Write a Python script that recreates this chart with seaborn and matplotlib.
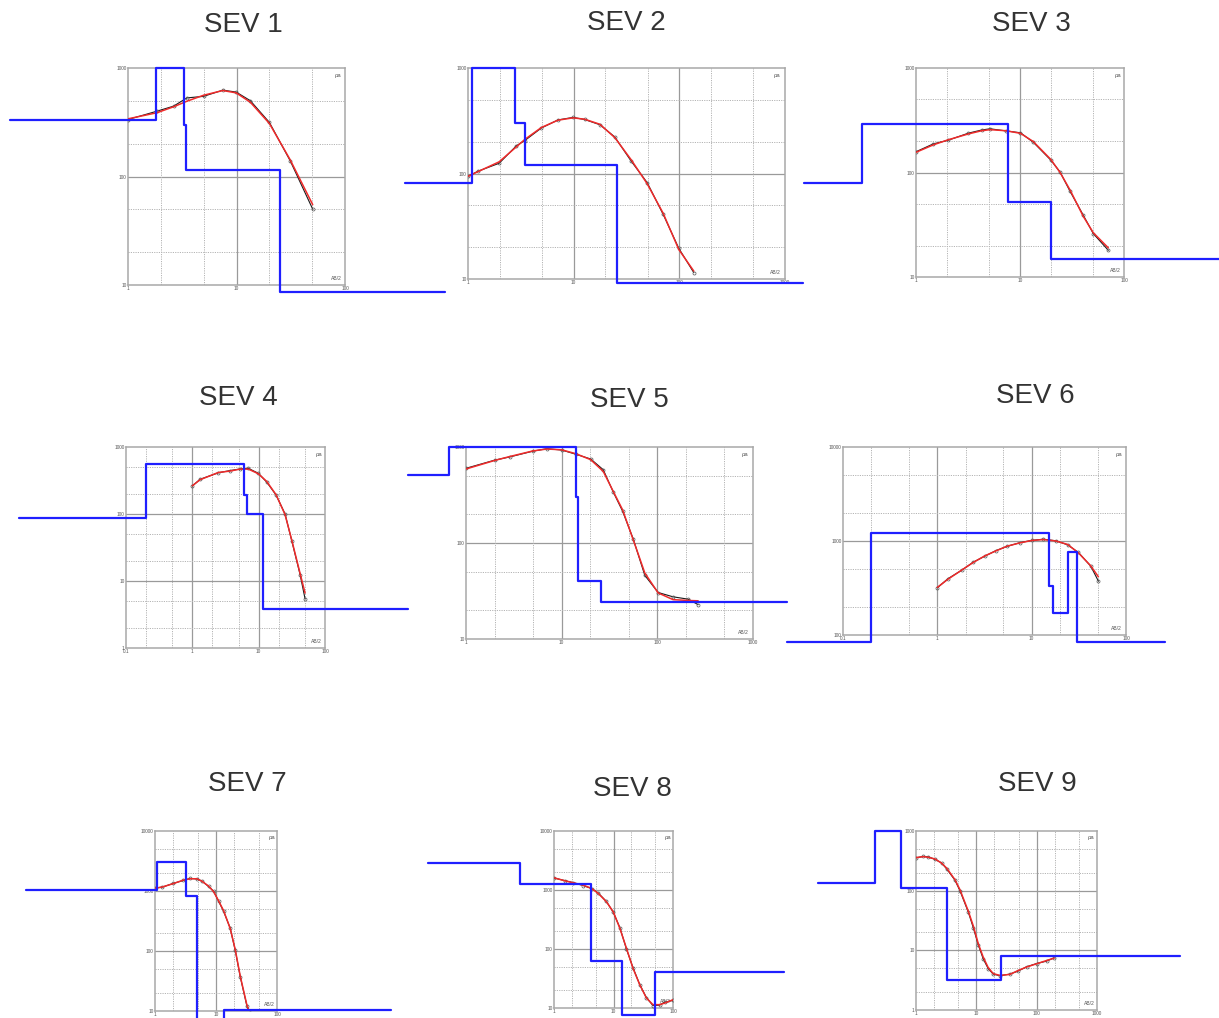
import matplotlib
matplotlib.use("Agg")
import matplotlib.pyplot as plt
from matplotlib.ticker import FixedLocator, FuncFormatter, LogLocator, NullFormatter
import numpy as np
import pandas as pd
import seaborn as sns

# ---------------------------------------------------------------------------
# Vertical electrical soundings: AB/2 (m), apparent resistivity (ohm.m)
# field = measured curve, calc = fitted curve, model = layered step model
# ---------------------------------------------------------------------------
titles = ["SEV 1", "SEV 2", "SEV 3", "SEV 4", "SEV 5", "SEV 6", "SEV 7", "SEV 8", "SEV 9"]

sev1_ab2 = [1, 1.85, 2.63, 3.49, 4.97, 7.48, 9.93, 13.4, 20.1, 31.2, 50.4]
sev1_calc = [340, 387, 439, 494, 561, 620, 590, 484, 308, 143, 55]
sev1_field = [335, 400, 445, 530, 548, 625, 600, 500, 315, 140, 50]
sev1_depth = [0.081, 1.81, 3.30, 3.44, 25.2, 832]
sev1_rho = [334, 1000, 301, 114, 8.65]

sev2_ab2 = [1, 1.24, 1.97, 2.87, 3.44, 4.95, 7.1, 9.87, 12.7, 17.7, 24.5, 35.2, 49.6, 70.3, 98.9, 137]
sev2_calc = [94, 104, 129, 179, 210, 273, 320, 337, 327, 293, 219, 134, 80, 42, 19, 11.9]
sev2_field = [94, 105, 125, 183, 205, 270, 322, 340, 325, 290, 222, 130, 82, 41, 19.5, 11.5]
sev2_depth = [0.255, 1.08, 2.77, 3.44, 25.8, 1480]
sev2_rho = [82, 1000, 302, 120, 9.2]

sev3_ab2 = [1, 1.47, 2.02, 3.19, 4.28, 5.15, 7.33, 10.1, 13.4, 19.7, 24.3, 30.3, 40.6, 50.7, 70.7]
sev3_calc = [156, 184, 205, 234, 251, 257, 251, 237, 198, 134, 100, 68, 38, 26.5, 19]
sev3_field = [158, 188, 203, 238, 255, 262, 250, 240, 195, 132, 101, 66, 39, 26, 18]
sev3_depth = [0.084, 0.305, 7.72, 19.9, 815]
sev3_rho = [79, 293, 52, 15]

sev4_ab2 = [1, 1.31, 2.47, 3.7, 5.24, 7.0, 9.9, 13.2, 18.3, 25, 31.5, 42.1, 50.1]
sev4_calc = [264, 325, 417, 437, 468, 468, 398, 307, 194, 98, 41, 13, 6.6]
sev4_field = [262, 330, 412, 445, 470, 480, 405, 300, 192, 100, 40, 12.5, 5.4]
sev4_depth = [0.0024, 0.2, 6.09, 6.69, 11.8, 1810]
sev4_rho = [88, 564, 194, 100, 3.8]

sev5_ab2 = [1, 2, 2.9, 5, 7, 10, 14.1, 20.1, 27.2, 34.6, 43.3, 56, 74, 102, 146, 210, 267]
sev5_calc = [590, 725, 798, 910, 953, 935, 851, 738, 557, 345, 222, 108, 48.7, 30.2, 25.7, 25.2, 25]
sev5_field = [600, 730, 790, 905, 960, 930, 840, 750, 580, 340, 215, 110, 46, 30.5, 27.5, 26, 22.8]
sev5_depth = [0.25, 0.67, 14.1, 14.9, 25.6, 2260]
sev5_rho = [514, 1000, 299, 40.4, 24.5]

sev6_ab2 = [1, 1.3, 1.81, 2.4, 3.19, 4.18, 5.5, 7.5, 10, 13.3, 18.1, 24.1, 31.3, 42.3, 51]
sev6_calc = [321, 393, 490, 591, 695, 785, 881, 955, 1012, 1037, 1000, 918, 748, 544, 416]
sev6_field = [318, 398, 488, 595, 690, 790, 878, 960, 1015, 1045, 1005, 910, 755, 540, 374]
sev6_depth = [0.0255, 0.2, 15.1, 16.9, 24.1, 30, 260]
sev6_rho = [85, 1230, 334, 171, 766, 85]

sev7_ab2 = [1, 1.32, 2, 2.92, 3.77, 4.84, 5.86, 7.54, 9.1, 11, 13.3, 17.1, 20.7, 25, 32.2, 35.6]
sev7_calc = [1110, 1167, 1330, 1520, 1600, 1600, 1460, 1210, 980, 690, 472, 237, 105, 38, 12.4, 9.6]
sev7_field = [1120, 1160, 1340, 1500, 1620, 1590, 1470, 1190, 1000, 680, 460, 240, 102, 37, 12, 9.4]
sev7_depth = [0.0076, 1.09, 3.2, 4.97, 13.3, 7330]
sev7_rho = [1030, 2990, 813, 3, 10.3]

sev8_ab2 = [1, 1.53, 2.11, 3.1, 4.27, 5.53, 7.6, 9.9, 12.8, 16.5, 21.3, 27.6, 35.7, 46, 59.7, 72.3, 100]
sev8_calc = [1610, 1430, 1325, 1210, 1064, 877, 632, 428, 224, 103, 47, 24.8, 14.8, 11.4, 11.4, 12.1, 13.8]
sev8_field = [1600, 1440, 1330, 1190, 1060, 890, 640, 420, 230, 100, 48, 25, 15, 11, 11.2, 12.5, 13.5]
sev8_depth = [0.0075, 0.27, 4.17, 13.9, 49.2, 7400]
sev8_rho = [2920, 1245, 63, 7.7, 40.5]

sev9_ab2 = [1, 1.32, 1.6, 2.06, 2.66, 3.22, 4.42, 5.35, 7.35, 8.9, 10.8, 13, 15.8, 19.1, 24.6,
            36, 49.5, 68, 99.6, 146, 195]
sev9_calc = [358, 372, 363, 340, 289, 239, 153, 104, 45.5, 25.7, 12.8, 7.7, 5.1, 4.06, 3.8,
             3.95, 4.6, 5.25, 5.95, 6.75, 7.4]
sev9_field = [355, 375, 368, 335, 292, 232, 150, 100, 44, 24, 12.3, 7.2, 4.9, 4.0, 3.75,
              4.0, 4.5, 5.3, 6.0, 6.6, 7.5]
sev9_depth = [0.024, 0.21, 0.565, 3.22, 25.2, 23500]
sev9_rho = [135, 1000, 111, 3.23, 8.17]

# ---------------------------------------------------------------------------
# Layout (pixel boxes: left, top, right, bottom) and log axis ranges
# ---------------------------------------------------------------------------
W, H = 1219, 1018
panels = [
    dict(box=(128, 68, 345, 285), xlim=(1, 100), ylim=(10, 1000), tpos=(243, 32),
         ab2=sev1_ab2, calc=sev1_calc, field=sev1_field, depth=sev1_depth, rho=sev1_rho),
    dict(box=(468, 68, 785, 279), xlim=(1, 1000), ylim=(10, 1000), tpos=(626, 30),
         ab2=sev2_ab2, calc=sev2_calc, field=sev2_field, depth=sev2_depth, rho=sev2_rho),
    dict(box=(916, 68, 1124, 277), xlim=(1, 100), ylim=(10, 1000), tpos=(1031, 31),
         ab2=sev3_ab2, calc=sev3_calc, field=sev3_field, depth=sev3_depth, rho=sev3_rho),
    dict(box=(126, 447, 325, 648), xlim=(0.1, 100), ylim=(1, 1000), tpos=(238, 405),
         ab2=sev4_ab2, calc=sev4_calc, field=sev4_field, depth=sev4_depth, rho=sev4_rho),
    dict(box=(466, 447, 753, 639), xlim=(1, 1000), ylim=(10, 1000), tpos=(629, 407),
         ab2=sev5_ab2, calc=sev5_calc, field=sev5_field, depth=sev5_depth, rho=sev5_rho),
    dict(box=(843, 447, 1126, 635), xlim=(0.1, 100), ylim=(100, 10000), tpos=(1035, 403),
         ab2=sev6_ab2, calc=sev6_calc, field=sev6_field, depth=sev6_depth, rho=sev6_rho),
    dict(box=(155, 831, 277, 1011), xlim=(1, 100), ylim=(10, 10000), tpos=(247, 791),
         ab2=sev7_ab2, calc=sev7_calc, field=sev7_field, depth=sev7_depth, rho=sev7_rho),
    dict(box=(554, 831, 673, 1008), xlim=(1, 100), ylim=(10, 10000), tpos=(632, 796),
         ab2=sev8_ab2, calc=sev8_calc, field=sev8_field, depth=sev8_depth, rho=sev8_rho),
    dict(box=(916, 831, 1097, 1010), xlim=(1, 1000), ylim=(1, 1000), tpos=(1037, 791),
         ab2=sev9_ab2, calc=sev9_calc, field=sev9_field, depth=sev9_depth, rho=sev9_rho),
]

BLUE = "#1f1fff"
RED = "#f02a2a"
FRAME = "#a8a8a8"
GRID_MAJOR = "#9a9a9a"
GRID_MINOR = "#b4b4b4"
TICK_TXT = "#555555"

sns.set_style("white")
plt.rcParams["font.family"] = ["Liberation Sans", "DejaVu Sans"]


def decade_values(lo, hi):
    lo_e, hi_e = int(round(np.log10(lo))), int(round(np.log10(hi)))
    majors = [10.0 ** e for e in range(lo_e, hi_e + 1)]
    minors = [m * 10.0 ** e for e in range(lo_e, hi_e) for m in (2, 5)]
    return majors, minors


def fmt(v, _pos=None):
    return f"{v:g}"


def draw_panel(fig, title, p):
    l, t, r, b = p["box"]
    ax = fig.add_axes([l / W, 1 - b / H, (r - l) / W, (b - t) / H])
    ax.set_xscale("log")
    ax.set_yscale("log")
    ax.set_xlim(*p["xlim"])
    ax.set_ylim(*p["ylim"])

    # decade lines solid, 2 and 5 dotted
    xmaj, xmin = decade_values(*p["xlim"])
    ymaj, ymin = decade_values(*p["ylim"])
    for v in xmaj[1:-1]:
        ax.axvline(v, color=GRID_MAJOR, lw=0.9, zorder=1)
    for v in ymaj[1:-1]:
        ax.axhline(v, color=GRID_MAJOR, lw=0.9, zorder=1)
    for v in xmin:
        ax.axvline(v, color=GRID_MINOR, lw=0.7, ls=(0, (1.2, 1.2)), zorder=1)
    for v in ymin:
        ax.axhline(v, color=GRID_MINOR, lw=0.7, ls=(0, (1.2, 1.2)), zorder=1)

    for s in ax.spines.values():
        s.set_color(FRAME)
        s.set_linewidth(1.1)

    ax.xaxis.set_major_locator(FixedLocator(xmaj))
    ax.yaxis.set_major_locator(FixedLocator(ymaj))
    ax.xaxis.set_major_formatter(FuncFormatter(fmt))
    ax.yaxis.set_major_formatter(FuncFormatter(fmt))
    ax.xaxis.set_minor_locator(LogLocator(base=10, subs=np.arange(2, 10)))
    ax.yaxis.set_minor_locator(LogLocator(base=10, subs=np.arange(2, 10)))
    ax.xaxis.set_minor_formatter(NullFormatter())
    ax.yaxis.set_minor_formatter(NullFormatter())
    ax.tick_params(which="major", length=0, labelsize=3.4, labelcolor=TICK_TXT)
    ax.tick_params(axis="x", which="major", pad=0.6)
    ax.tick_params(axis="y", which="major", pad=1.2)
    ax.tick_params(which="minor", direction="in", length=1.5, width=0.5, color="#888888")

    # layered model (steps), drawn past the frame
    model = pd.DataFrame({"AB/2": p["depth"], "rho": list(p["rho"]) + [p["rho"][-1]]})
    sns.lineplot(data=model, x="AB/2", y="rho", ax=ax, color=BLUE, lw=1.6,
                 drawstyle="steps-post", estimator=None, sort=False,
                 clip_on=False, zorder=6)

    curves = pd.DataFrame({"AB/2": p["ab2"], "field": p["field"], "calc": p["calc"]})
    sns.lineplot(data=curves, x="AB/2", y="field", ax=ax, color="#1a1a1a", lw=0.8,
                 marker="o", markersize=2.2, markerfacecolor="none",
                 markeredgecolor="#555555", markeredgewidth=0.5,
                 estimator=None, zorder=4)
    sns.lineplot(data=curves, x="AB/2", y="calc", ax=ax, color=RED, lw=1.1,
                 estimator=None, zorder=5)

    ax.set_xlabel("")
    ax.set_ylabel("")
    ax.text(0.985, 0.975, "ρa", transform=ax.transAxes, ha="right", va="top",
            fontsize=4.2, color=TICK_TXT)
    ax.text(0.985, 0.02, "AB/2", transform=ax.transAxes, ha="right", va="bottom",
            fontsize=3.6, color=TICK_TXT)

    tx, ty = p["tpos"]
    fig.text(tx / W, 1 - ty / H, title, ha="center", va="baseline",
             fontsize=20, color="#333333")


fig = plt.figure(figsize=(W / 100, H / 100), dpi=100)
fig.patch.set_facecolor("white")
for name, panel in zip(titles, panels):
    draw_panel(fig, name, panel)

fig.savefig("out.png", dpi=100, facecolor="white")
